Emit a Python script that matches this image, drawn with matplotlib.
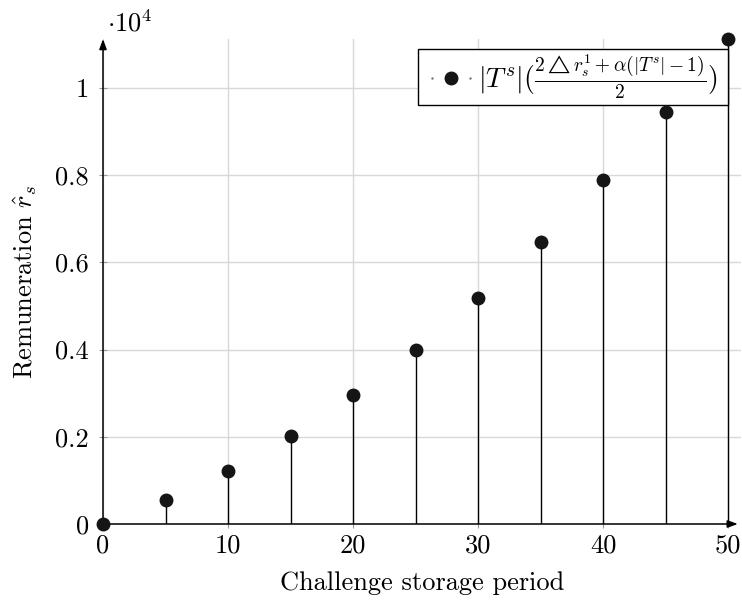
import matplotlib
matplotlib.use("Agg")
import matplotlib.pyplot as plt
from matplotlib.lines import Line2D
from matplotlib.legend_handler import HandlerBase

plt.rcParams['font.family'] = 'serif'
plt.rcParams['font.serif'] = ['cmr10']
plt.rcParams['mathtext.fontset'] = 'cm'
plt.rcParams['axes.unicode_minus'] = False
plt.rcParams['axes.formatter.use_mathtext'] = True

# ---- data ----
period = [0, 5, 10, 15, 20, 25, 30, 35, 40, 45, 50]
remuneration = [0, 550, 1225, 2025, 2950, 4000, 5175, 6475, 7900, 9450, 11125]
scale = 1e4
xticks = [0, 10, 20, 30, 40, 50]
yticks = [0, 0.2, 0.4, 0.6, 0.8, 1.0]
ytick_labels = ['0', '0.2', '0.4', '0.6', '0.8', '1']
legend_label = r'$|T^s|(\frac{2\triangle r_s^1+\alpha(|T^s|-1)}{2})$'

FS = 19
W, H = 742, 607
fig = plt.figure(figsize=(W / 100, H / 100), dpi=100)
ax = fig.add_axes([103 / W, 83 / H, 638 / W, 485 / H])

yv = [v / scale for v in remuneration]
ax.vlines(period, 0, yv, colors='black', lw=1.0, zorder=3)
ax.plot(period, yv, ls='none', marker='o', ms=9, color='#151515', zorder=6,
        label=legend_label, clip_on=False)

ax.set_xlim(0, 51.04)
ax.set_ylim(0, 1.1124)
ax.set_xticks(xticks)
ax.set_xticklabels([str(t) for t in xticks])
ax.set_yticks(yticks)
ax.set_yticklabels(ytick_labels)
ax.tick_params(axis='both', direction='inout', length=6, width=0.8,
               color='#999999', labelsize=FS)
ax.tick_params(axis='y', pad=7)
ax.tick_params(axis='x', pad=4)
ax.grid(True, color='#d8d8d8', lw=1.0, zorder=0)
ax.set_axisbelow(True)
for s in ax.spines.values():
    s.set_visible(False)

# axis arrows
ax.annotate('', xy=(0.995, 0), xytext=(0, 0), xycoords='axes fraction',
            arrowprops=dict(arrowstyle='-|>,head_length=0.6,head_width=0.22',
                            lw=1.1, color='black', shrinkA=0, shrinkB=0),
            zorder=5)
ax.annotate('', xy=(0, 1.0), xytext=(0, 0), xycoords='axes fraction',
            arrowprops=dict(arrowstyle='-|>,head_length=0.6,head_width=0.22',
                            lw=1.1, color='black', shrinkA=0, shrinkB=0),
            zorder=5)

ax.set_xlabel('Challenge storage period', fontsize=FS, labelpad=10)
ax.set_ylabel(r'Remuneration $\hat{r}_s$', fontsize=FS, labelpad=12)

fig.text(107 / W, 1 - 31 / H, r'$\cdot 10^4$', fontsize=FS, va='baseline', ha='left')


class StemHandler(HandlerBase):
    def create_artists(self, legend, orig_handle, xdescent, ydescent,
                       width, height, fontsize, trans):
        y = height / 2 - ydescent
        x0 = 7.9 - xdescent
        x1 = width - xdescent
        dots = Line2D([x0, x1], [y, y], ls='none',
                      marker='.', ms=1.5, color='#777777', transform=trans)
        m = Line2D([(x0 + x1) / 2], [y], ls='none', marker='o', ms=9,
                   color='#151515', transform=trans)
        return [dots, m]


h, l = ax.get_legend_handles_labels()
leg = ax.legend(h, l, loc='upper right',
                bbox_to_anchor=(0.4937, 0.5, 0.4859, 0.4794), mode='expand',
                handler_map={type(h[0]): StemHandler()}, fontsize=20,
                frameon=True, fancybox=False, framealpha=1, edgecolor='black',
                borderpad=0.12, borderaxespad=0, handlelength=1.75,
                handletextpad=0.3)
leg.get_frame().set_linewidth(1.0)
leg.set_zorder(4)

fig.savefig('out.png', dpi=100)
